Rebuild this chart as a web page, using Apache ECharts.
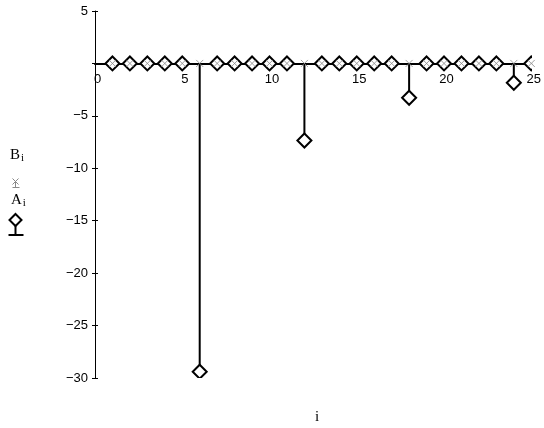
<!DOCTYPE html>
<html>
<head>
<meta charset="utf-8">
<script src="https://cdn.jsdelivr.net/npm/echarts@6/dist/echarts.min.js"></script>
<style>
  html, body { margin: 0; padding: 0; background: #fff; }
  #chart { width: 544px; height: 428px; }
</style>
</head>
<body>
<div id="chart"></div>
<script>
// index i
const iValues = [1, 2, 3, 4, 5, 6, 7, 8, 9, 10, 11, 12, 13, 14, 15, 16, 17, 18, 19, 20, 21, 22, 23, 24, 25]
// A_i (diamond stems)
const aValues = [0, 0, 0, 0, 0, -29.4, 0, 0, 0, 0, 0, -7.35, 0, 0, 0, 0, 0, -3.27, 0, 0, 0, 0, 0, -1.84, 0]
// B_i (small x marks)
const bValues = [0, 0, 0, 0, 0, 0, 0, 0, 0, 0, 0, 0, 0, 0, 0, 0, 0, 0, 0, 0, 0, 0, 0, 0, 0]

const chart = echarts.init(document.getElementById('chart'))

const aData = iValues.map((x, k) => [x, aValues[k]])
const bData = iValues.map((x, k) => [x, bValues[k]])

const tickFont = { fontFamily: 'Liberation Sans', fontSize: 13, color: '#000' }

const gridTop = 11
const gridBottom = 50
const yMin = -30
const yMax = 5
// distance from the top of the grid down to y = 0
const zeroOffset = (428 - gridTop - gridBottom) * yMax / (yMax - yMin)

// stem from 0 plus a diamond at the value
const renderStem = (params, api) => {
  const p = api.coord([api.value(0), api.value(1)])
  const base = api.coord([api.value(0), 0])
  const s = 7
  return {
    type: 'group',
    children: [
      {
        type: 'line',
        shape: { x1: base[0], y1: base[1], x2: p[0], y2: p[1] },
        style: { stroke: '#000', lineWidth: 2 }
      },
      {
        type: 'polygon',
        shape: { points: [[p[0], p[1] - s], [p[0] + s, p[1]], [p[0], p[1] + s], [p[0] - s, p[1]]] },
        style: { fill: '#fff', stroke: '#000', lineWidth: 2 }
      }
    ]
  }
}

const option = {
  backgroundColor: '#fff',
  animation: false,
  grid: { left: 95, right: 11, top: gridTop, bottom: gridBottom, containLabel: false },
  xAxis: {
    type: 'value',
    position: 'top',
    offset: -zeroOffset,
    min: 0,
    max: 25,
    interval: 5,
    axisLine: { onZero: false, lineStyle: { color: '#000', width: 2 } },
    axisTick: { show: false },
    splitLine: { show: false },
    axisLabel: { ...tickFont, inside: true, margin: 9, padding: [0, 0, 0, 5] }
  },
  yAxis: [
    {
      type: 'value',
      min: yMin,
      max: yMax,
      interval: 5,
      axisLine: { show: true, onZero: false, lineStyle: { color: '#000', width: 1 } },
      axisTick: { show: true, length: 3, lineStyle: { color: '#000' } },
      splitLine: { show: false },
      axisLabel: {
        ...tickFont,
        margin: 7,
        formatter: (v) => (v === 0 ? '' : String(v).replace('-', '\u2212'))
      }
    },
    {
      // same scale, only the inner half of each tick
      type: 'value',
      position: 'left',
      min: yMin,
      max: yMax,
      interval: 5,
      axisLine: { show: false, onZero: false },
      axisTick: { show: true, inside: true, length: 3, lineStyle: { color: '#000' } },
      splitLine: { show: false },
      axisLabel: { show: false }
    }
  ],
  series: [
    {
      name: 'A',
      type: 'custom',
      renderItem: renderStem,
      data: aData,
      clip: true,
      z: 2
    },
    {
      name: 'B',
      type: 'scatter',
      data: bData,
      symbol: 'path://M0,0L10,10M10,0L0,10',
      symbolSize: 7,
      itemStyle: { color: 'none', borderColor: '#888', borderWidth: 1 },
      z: 3
    }
  ],
  graphic: [
    {
      type: 'text', left: 10, top: 148,
      style: {
        text: '{m|B}{s|i}',
        rich: {
          m: { fontFamily: 'Liberation Serif', fontSize: 15, fill: '#000' },
          s: { fontFamily: 'Liberation Serif', fontSize: 11, fill: '#000', padding: [6, 0, 0, 1] }
        }
      }
    },
    {
      type: 'group', left: 10, top: 176,
      children: [
        { type: 'line', shape: { x1: 0, y1: 0, x2: 6, y2: 6 }, style: { stroke: '#888', lineWidth: 1 } },
        { type: 'line', shape: { x1: 6, y1: 0, x2: 0, y2: 6 }, style: { stroke: '#888', lineWidth: 1 } },
        { type: 'line', shape: { x1: 3, y1: 3, x2: 3, y2: 9 }, style: { stroke: '#888', lineWidth: 1 } },
        { type: 'line', shape: { x1: 0, y1: 9, x2: 7, y2: 9 }, style: { stroke: '#888', lineWidth: 1 } }
      ]
    },
    {
      type: 'text', left: 11, top: 193,
      style: {
        text: '{m|A}{s|i}',
        rich: {
          m: { fontFamily: 'Liberation Serif', fontSize: 15, fill: '#000' },
          s: { fontFamily: 'Liberation Serif', fontSize: 11, fill: '#000', padding: [6, 0, 0, 1] }
        }
      }
    },
    {
      type: 'group', left: 6, top: 213,
      children: [
        { type: 'polygon', shape: { points: [[8, 1], [14, 7], [8, 13], [2, 7]] }, style: { fill: '#fff', stroke: '#000', lineWidth: 2 } },
        { type: 'line', shape: { x1: 8, y1: 13, x2: 8, y2: 22 }, style: { stroke: '#000', lineWidth: 2 } },
        { type: 'line', shape: { x1: 1, y1: 22, x2: 16, y2: 22 }, style: { stroke: '#000', lineWidth: 2 } }
      ]
    },
    {
      type: 'text', left: 315, top: 410,
      style: { text: 'i', fontFamily: 'Liberation Serif', fontSize: 15, fill: '#000' }
    }
  ]
}

chart.setOption(option)
window.addEventListener('resize', () => chart.resize())
</script>
</body>
</html>
